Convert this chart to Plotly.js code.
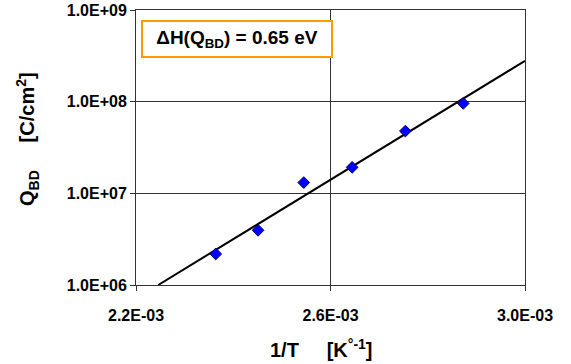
<!DOCTYPE html>
<html>
<head>
<meta charset="utf-8">
<script src="https://cdn.plot.ly/plotly-3.0.1.min.js"></script>
<style>html,body{margin:0;padding:0;background:#fff;}</style>
</head>
<body>
<div id="chart" style="width:571px;height:364px;"></div>
<script>
// Measured data: inverse temperature (1/K) and charge to breakdown (C/cm^2)
var invT = [2.364e-3, 2.451e-3, 2.545e-3, 2.6445e-3, 2.754e-3, 2.873e-3];
var qbd  = [2.18e6, 3.95e6, 1.31e7, 1.92e7, 4.78e7, 9.57e7];
// Arrhenius fit line endpoints
var fitX = [2.2457e-3, 3.0e-3];
var fitY = [1.0e6, 2.79e8];
// Tick values and labels
var xTickVals = [2.2e-3, 2.6e-3, 3.0e-3];
var xTickText = ["2.2E-03", "2.6E-03", "3.0E-03"];
var yTickVals = [1e6, 1e7, 1e8, 1e9];
var yTickText = ["1.0E+06", "1.0E+07", "1.0E+08", "1.0E+09"];
var xTitle = "1/T\u00a0\u00a0\u00a0\u00a0\u00a0[K<sup>°-1</sup>]";
var yTitle = "Q<sub>BD</sub>\u00a0\u00a0\u00a0\u00a0\u00a0[C/cm<sup>2</sup>]";
var boxText = "ΔH(Q<sub>BD</sub>) = 0.65 eV";

var FONT = "Liberation Sans, Arial, sans-serif";

var traces = [
  {x: fitX, y: fitY, mode: "lines", type: "scatter",
   line: {color: "#000000", width: 2}, hoverinfo: "skip", showlegend: false, cliponaxis: true},
  {x: invT, y: qbd, mode: "markers", type: "scatter",
   marker: {symbol: "diamond", size: 9, color: "#0000FF", line: {color: "#000066", width: 1}},
   showlegend: false}
];

function bold(a) { return a.map(function (s) { return "<b>" + s + "</b>"; }); }

var annotations = [];
// axis titles
annotations.push({xref: "paper", yref: "paper", x: 0.477, y: 0, xanchor: "center", yanchor: "middle",
  yshift: -63, showarrow: false, text: "<b>" + xTitle + "</b>",
  font: {family: FONT, size: 20, color: "#000"}});
annotations.push({xref: "paper", yref: "paper", x: 0, y: 0.531, xanchor: "center", yanchor: "middle",
  xshift: -108, textangle: -90, showarrow: false, text: "<b>" + yTitle + "</b>",
  font: {family: FONT, size: 20, color: "#000"}});
// energy box
annotations.push({
  xref: "paper", yref: "paper", x: 0.2596, y: 0.8938,
  xanchor: "center", yanchor: "middle",
  text: "<b>" + boxText + "</b>", showarrow: false,
  font: {family: FONT, size: 19, color: "#000"},
  bgcolor: "#ffffff", bordercolor: "#FF9900", borderwidth: 2, borderpad: 4,
  width: 180, height: 26
});

var layout = {
  width: 571, height: 364,
  margin: {l: 136, r: 46, t: 10, b: 79},
  paper_bgcolor: "#ffffff", plot_bgcolor: "#ffffff",
  font: {family: FONT, size: 16, color: "#000000"},
  showlegend: false,
  xaxis: {
    range: [2.2e-3, 3.0e-3],
    tickmode: "array", tickvals: xTickVals, ticktext: bold(xTickText),
    tickfont: {family: FONT, size: 16, weight: "bold", color: "#000000"},
    ticks: "outside", ticklen: 5, tickcolor: "#333", ticklabelstandoff: 11,
    showgrid: true, gridcolor: "#333", gridwidth: 1,
    showline: true, linecolor: "#333", linewidth: 1, mirror: true,
    zeroline: false
  },
  yaxis: {
    type: "log",
    range: [6, 9],
    tickmode: "array", tickvals: yTickVals, ticktext: bold(yTickText),
    tickfont: {family: FONT, size: 16, weight: "bold", color: "#000000"},
    ticks: "outside", ticklen: 5, tickcolor: "#333",
    showgrid: true, gridcolor: "#333", gridwidth: 1,
    showline: true, linecolor: "#333", linewidth: 1, mirror: true,
    zeroline: false
  },
  annotations: annotations
};

Plotly.newPlot("chart", traces, layout, {displayModeBar: false, staticPlot: true});
</script>
</body>
</html>
